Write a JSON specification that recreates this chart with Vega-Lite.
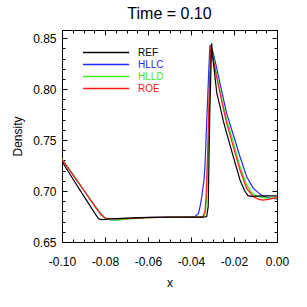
{
  "$schema": "https://vega.github.io/schema/vega-lite/v6.json",
  "width": 215,
  "height": 212,
  "autosize": {"type": "none"},
  "padding": {"left": 62, "top": 30, "right": 30, "bottom": 65},
  "background": "white",
  "title": {"text": "Time = 0.10", "fontSize": 16, "font": "Liberation Sans", "fontWeight": "normal", "color": "black", "offset": 8, "anchor": "middle"},
  "config": {
    "view": {"stroke": "black", "strokeWidth": 1},
    "axis": {"labelFont": "Liberation Sans", "titleFont": "Liberation Sans", "labelFontSize": 12, "titleFontSize": 12, "titleFontWeight": "normal", "labelColor": "black", "titleColor": "black", "tickColor": "black", "domain": false, "grid": false, "tickWidth": 1, "labelFlush": false, "labelOverlap": false}
  },
  "data": {"values": [
    {"series": "HLLC", "x": -0.100, "y": 0.731},
    {"series": "HLLC", "x": -0.090, "y": 0.701},
    {"series": "HLLC", "x": -0.085, "y": 0.686},
    {"series": "HLLC", "x": -0.082, "y": 0.678},
    {"series": "HLLC", "x": -0.080, "y": 0.6735},
    {"series": "HLLC", "x": -0.078, "y": 0.672},
    {"series": "HLLC", "x": -0.075, "y": 0.6718},
    {"series": "HLLC", "x": -0.072, "y": 0.6725},
    {"series": "HLLC", "x": -0.065, "y": 0.6738},
    {"series": "HLLC", "x": -0.055, "y": 0.6742},
    {"series": "HLLC", "x": -0.045, "y": 0.6745},
    {"series": "HLLC", "x": -0.040, "y": 0.6745},
    {"series": "HLLC", "x": -0.038, "y": 0.675},
    {"series": "HLLC", "x": -0.0365, "y": 0.678},
    {"series": "HLLC", "x": -0.0358, "y": 0.6846},
    {"series": "HLLC", "x": -0.0350, "y": 0.6944},
    {"series": "HLLC", "x": -0.0340, "y": 0.710},
    {"series": "HLLC", "x": -0.0335, "y": 0.724},
    {"series": "HLLC", "x": -0.0324, "y": 0.783},
    {"series": "HLLC", "x": -0.0318, "y": 0.815},
    {"series": "HLLC", "x": -0.0312, "y": 0.843},
    {"series": "HLLC", "x": -0.0305, "y": 0.840},
    {"series": "HLLC", "x": -0.0296, "y": 0.835},
    {"series": "HLLC", "x": -0.0280, "y": 0.820},
    {"series": "HLLC", "x": -0.0265, "y": 0.8056},
    {"series": "HLLC", "x": -0.0234, "y": 0.776},
    {"series": "HLLC", "x": -0.0203, "y": 0.755},
    {"series": "HLLC", "x": -0.0172, "y": 0.7336},
    {"series": "HLLC", "x": -0.0141, "y": 0.714},
    {"series": "HLLC", "x": -0.0110, "y": 0.7026},
    {"series": "HLLC", "x": -0.0079, "y": 0.697},
    {"series": "HLLC", "x": -0.0060, "y": 0.6945},
    {"series": "HLLC", "x": -0.0030, "y": 0.6930},
    {"series": "HLLC", "x": 0.000, "y": 0.6922},
    {"series": "HLLD", "x": -0.100, "y": 0.7315},
    {"series": "HLLD", "x": -0.090, "y": 0.7015},
    {"series": "HLLD", "x": -0.085, "y": 0.6865},
    {"series": "HLLD", "x": -0.082, "y": 0.6775},
    {"series": "HLLD", "x": -0.080, "y": 0.6735},
    {"series": "HLLD", "x": -0.077, "y": 0.6718},
    {"series": "HLLD", "x": -0.074, "y": 0.6715},
    {"series": "HLLD", "x": -0.070, "y": 0.6725},
    {"series": "HLLD", "x": -0.060, "y": 0.6738},
    {"series": "HLLD", "x": -0.050, "y": 0.6743},
    {"series": "HLLD", "x": -0.040, "y": 0.6745},
    {"series": "HLLD", "x": -0.036, "y": 0.6745},
    {"series": "HLLD", "x": -0.0340, "y": 0.675},
    {"series": "HLLD", "x": -0.0332, "y": 0.680},
    {"series": "HLLD", "x": -0.0326, "y": 0.700},
    {"series": "HLLD", "x": -0.0318, "y": 0.750},
    {"series": "HLLD", "x": -0.0312, "y": 0.800},
    {"series": "HLLD", "x": -0.0306, "y": 0.842},
    {"series": "HLLD", "x": -0.0300, "y": 0.836},
    {"series": "HLLD", "x": -0.0290, "y": 0.824},
    {"series": "HLLD", "x": -0.0275, "y": 0.808},
    {"series": "HLLD", "x": -0.0255, "y": 0.789},
    {"series": "HLLD", "x": -0.0234, "y": 0.770},
    {"series": "HLLD", "x": -0.0203, "y": 0.748},
    {"series": "HLLD", "x": -0.0172, "y": 0.724},
    {"series": "HLLD", "x": -0.0141, "y": 0.706},
    {"series": "HLLD", "x": -0.0120, "y": 0.699},
    {"series": "HLLD", "x": -0.0100, "y": 0.6955},
    {"series": "HLLD", "x": -0.0070, "y": 0.6935},
    {"series": "HLLD", "x": -0.0040, "y": 0.6930},
    {"series": "HLLD", "x": 0.000, "y": 0.6932},
    {"series": "ROE", "x": -0.100, "y": 0.731},
    {"series": "ROE", "x": -0.090, "y": 0.7015},
    {"series": "ROE", "x": -0.085, "y": 0.686},
    {"series": "ROE", "x": -0.082, "y": 0.677},
    {"series": "ROE", "x": -0.080, "y": 0.6735},
    {"series": "ROE", "x": -0.077, "y": 0.6728},
    {"series": "ROE", "x": -0.070, "y": 0.673},
    {"series": "ROE", "x": -0.060, "y": 0.674},
    {"series": "ROE", "x": -0.050, "y": 0.6743},
    {"series": "ROE", "x": -0.040, "y": 0.6745},
    {"series": "ROE", "x": -0.036, "y": 0.6745},
    {"series": "ROE", "x": -0.0345, "y": 0.675},
    {"series": "ROE", "x": -0.0335, "y": 0.680},
    {"series": "ROE", "x": -0.0330, "y": 0.694},
    {"series": "ROE", "x": -0.0322, "y": 0.740},
    {"series": "ROE", "x": -0.0315, "y": 0.800},
    {"series": "ROE", "x": -0.0308, "y": 0.843},
    {"series": "ROE", "x": -0.0302, "y": 0.835},
    {"series": "ROE", "x": -0.0290, "y": 0.822},
    {"series": "ROE", "x": -0.0275, "y": 0.806},
    {"series": "ROE", "x": -0.0255, "y": 0.786},
    {"series": "ROE", "x": -0.0234, "y": 0.7664},
    {"series": "ROE", "x": -0.0203, "y": 0.7434},
    {"series": "ROE", "x": -0.0172, "y": 0.7206},
    {"series": "ROE", "x": -0.0141, "y": 0.7026},
    {"series": "ROE", "x": -0.0110, "y": 0.6944},
    {"series": "ROE", "x": -0.0085, "y": 0.6918},
    {"series": "ROE", "x": -0.0064, "y": 0.6910},
    {"series": "ROE", "x": -0.0040, "y": 0.6918},
    {"series": "ROE", "x": -0.0020, "y": 0.6928},
    {"series": "ROE", "x": 0.000, "y": 0.6935},
    {"series": "REF", "x": -0.100, "y": 0.729},
    {"series": "REF", "x": -0.095, "y": 0.712},
    {"series": "REF", "x": -0.090, "y": 0.6955},
    {"series": "REF", "x": -0.085, "y": 0.679},
    {"series": "REF", "x": -0.083, "y": 0.6728},
    {"series": "REF", "x": -0.0815, "y": 0.6720},
    {"series": "REF", "x": -0.080, "y": 0.6722},
    {"series": "REF", "x": -0.077, "y": 0.6728},
    {"series": "REF", "x": -0.070, "y": 0.6735},
    {"series": "REF", "x": -0.060, "y": 0.6742},
    {"series": "REF", "x": -0.050, "y": 0.6745},
    {"series": "REF", "x": -0.040, "y": 0.6745},
    {"series": "REF", "x": -0.034, "y": 0.6745},
    {"series": "REF", "x": -0.0327, "y": 0.6750},
    {"series": "REF", "x": -0.0320, "y": 0.685},
    {"series": "REF", "x": -0.0316, "y": 0.735},
    {"series": "REF", "x": -0.0312, "y": 0.783},
    {"series": "REF", "x": -0.0304, "y": 0.845},
    {"series": "REF", "x": -0.0298, "y": 0.830},
    {"series": "REF", "x": -0.0290, "y": 0.815},
    {"series": "REF", "x": -0.0280, "y": 0.796},
    {"series": "REF", "x": -0.0265, "y": 0.783},
    {"series": "REF", "x": -0.0250, "y": 0.769},
    {"series": "REF", "x": -0.0234, "y": 0.7566},
    {"series": "REF", "x": -0.0203, "y": 0.7336},
    {"series": "REF", "x": -0.0172, "y": 0.7108},
    {"series": "REF", "x": -0.0150, "y": 0.700},
    {"series": "REF", "x": -0.0135, "y": 0.6955},
    {"series": "REF", "x": -0.0120, "y": 0.6948},
    {"series": "REF", "x": -0.0100, "y": 0.6950},
    {"series": "REF", "x": -0.0050, "y": 0.6952},
    {"series": "REF", "x": 0.000, "y": 0.6952}
  ]},
  "layer": [
    {
      "mark": {"type": "line", "strokeWidth": 1.2, "clip": true},
      "encoding": {
        "x": {"field": "x", "type": "quantitative", "scale": {"domain": [-0.1, 0], "nice": false, "zero": false},
          "axis": {"orient": "bottom", "values": [-0.1, -0.08, -0.06, -0.04, -0.02, 0], "labelExpr": "replace(format(datum.value, '.2f'), '\u2212', '-')", "tickSize": -5, "labelPadding": 19, "title": "x", "titlePadding": 10}},
        "y": {"field": "y", "type": "quantitative", "scale": {"domain": [0.65, 0.858], "nice": false, "zero": false},
          "axis": {"orient": "left", "values": [0.65, 0.7, 0.75, 0.8, 0.85], "format": ".2f", "tickSize": -5, "labelPadding": 11, "title": "Density", "titlePadding": 8}},
        "color": {"field": "series", "type": "nominal",
          "scale": {"domain": ["REF", "HLLC", "HLLD", "ROE"], "range": ["#000000", "#1f2bff", "#3ef01e", "#ff1a1a"]},
          "legend": {"orient": "none", "legendX": 20, "legendY": 16, "title": null, "symbolType": "M-1,0H7.4", "symbolSize": 121, "symbolStrokeWidth": 1.3, "labelFont": "Liberation Sans", "labelFontSize": 10, "labelOffset": 43, "rowPadding": 0, "padding": 0,
            "encode": {"labels": {"update": {"fill": {"signal": "scale('color', datum.value)"}}}}}
        }
      }
    },
    {
      "mark": {"type": "line", "opacity": 0},
      "encoding": {
        "x": {"field": "x", "type": "quantitative", "axis": {"orient": "bottom", "values": [-0.1, -0.095, -0.09, -0.085, -0.08, -0.075, -0.07, -0.065, -0.06, -0.055, -0.05, -0.045, -0.04, -0.035, -0.03, -0.025, -0.02, -0.015, -0.01, -0.005, 0], "labels": false, "tickSize": -3, "title": null}},
        "y": {"field": "y", "type": "quantitative", "axis": {"orient": "left", "values": [0.65, 0.66, 0.67, 0.68, 0.69, 0.7, 0.71, 0.72, 0.73, 0.74, 0.75, 0.76, 0.77, 0.78, 0.79, 0.8, 0.81, 0.82, 0.83, 0.84, 0.85], "labels": false, "tickSize": -3, "title": null}}
      }
    },
    {
      "mark": {"type": "line", "opacity": 0},
      "encoding": {
        "x": {"field": "x", "type": "quantitative", "axis": {"orient": "top", "values": [-0.1, -0.08, -0.06, -0.04, -0.02, 0], "labels": false, "tickSize": -5, "title": null}},
        "y": {"field": "y", "type": "quantitative", "axis": {"orient": "right", "values": [0.65, 0.7, 0.75, 0.8, 0.85], "labels": false, "tickSize": -5, "title": null}}
      }
    },
    {
      "mark": {"type": "line", "opacity": 0},
      "encoding": {
        "x": {"field": "x", "type": "quantitative", "axis": {"orient": "top", "values": [-0.1, -0.095, -0.09, -0.085, -0.08, -0.075, -0.07, -0.065, -0.06, -0.055, -0.05, -0.045, -0.04, -0.035, -0.03, -0.025, -0.02, -0.015, -0.01, -0.005, 0], "labels": false, "tickSize": -3, "title": null}},
        "y": {"field": "y", "type": "quantitative", "axis": {"orient": "right", "values": [0.65, 0.66, 0.67, 0.68, 0.69, 0.7, 0.71, 0.72, 0.73, 0.74, 0.75, 0.76, 0.77, 0.78, 0.79, 0.8, 0.81, 0.82, 0.83, 0.84, 0.85], "labels": false, "tickSize": -3, "title": null}}
      }
    }
  ],
  "resolve": {"axis": {"x": "independent", "y": "independent"}}
}
